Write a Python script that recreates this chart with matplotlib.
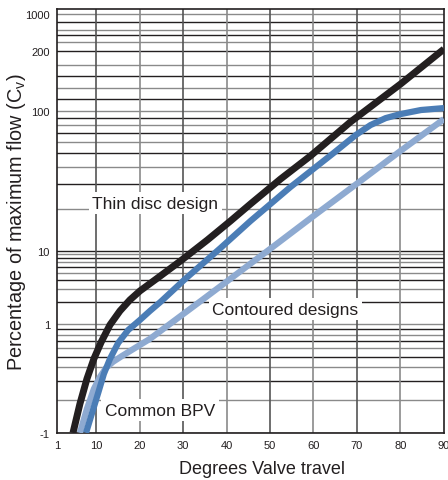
import numpy as np
import matplotlib.pyplot as plt

# degrees of valve travel / percentage of max flow
thin_deg = [4.7, 6.3, 7.9, 9.5, 11.2, 13.2, 15.5, 17.8, 20.1, 24.8, 29.4, 35.6,
            40.9, 45.5, 52.4, 59.3, 68.5, 80.0, 90.0]
thin_val = [0.1, 0.185, 0.313, 0.478, 0.684, 0.98, 1.51, 2.14, 2.84, 4.56, 7.3, 12.0,
            16.4, 21.7, 32.7, 47.9, 83.8, 136.7, 218.0]

cont_deg = [7.7, 9.1, 10.5, 11.8, 13.2, 15.1, 17.4, 20.1, 22.4, 24.8, 30.5, 38.6,
            45.5, 54.7, 64.6, 69.7, 73.1, 76.6, 80.0, 84.7, 90.0]
cont_val = [0.1, 0.153, 0.233, 0.348, 0.478, 0.67, 0.88, 1.135, 1.51, 2.0, 4.14, 10.5,
            16.4, 28.7, 50.2, 67.5, 79.6, 89.3, 95.4, 101.4, 103.7]

bpv_deg = [6.3, 7.9, 9.5, 10.9, 12.3, 13.9, 16.0, 19.0, 22.4, 34.7, 50.1, 60.0,
           69.9, 80.0, 90.0]
bpv_val = [0.1, 0.166, 0.253, 0.326, 0.395, 0.449, 0.509, 0.603, 0.73, 2.2, 10.4, 17.8,
           30.2, 52.0, 87.9]

x_ticks = [1, 10, 20, 30, 40, 50, 60, 70, 80, 90]
y_ticks = [0.1, 1, 10, 100, 200, 1000]
y_tick_labels = ['-1', '1', '10', '100', '200', '1000']

# the printed axis is not an even log scale: pin each label to where it sits
LOGS = np.array([-1.0, 0.0, 1.0, 2.0, np.log10(200), 3.0, 3.1])
FRACS = np.array([0.0, 0.257, 0.429, 0.759, 0.901, 0.988, 1.0])


def fwd(v):
    with np.errstate(divide='ignore', invalid='ignore'):
        lv = np.log10(np.clip(v, 1e-6, None))
    return np.interp(lv, LOGS, FRACS)


def inv(f):
    return 10 ** np.interp(f, FRACS, LOGS)


plt.rcParams['font.family'] = ['Liberation Sans', 'DejaVu Sans']
ink = '#231f20'

fig = plt.figure(figsize=(4.48, 4.81), dpi=100)
ax = fig.add_axes([0.127, 0.098, 0.864, 0.881])
ax.set_yscale('function', functions=(fwd, inv))
ax.set_xlim(1, 90)
ax.set_ylim(0.1, 10 ** 3.1)

# log-paper style grid
grid_vals = []
for d in [0.1, 1, 10]:
    grid_vals += [k * d for k in range(1, 10)]
grid_vals += [100, 115, 130, 150, 170, 200, 300, 400, 500, 700, 1000]
for i, g in enumerate(grid_vals):
    ax.axhline(g, color=ink if i % 2 == 0 else '#8a8a8a', lw=1.0, zorder=1)
for i, xv in enumerate(x_ticks[1:-1]):
    ax.axvline(xv, color='#555555' if i % 2 == 0 else '#8a8a8a', lw=1.2, zorder=1)

ax.plot(bpv_deg, bpv_val, color='#8eaad1', lw=4.5, solid_capstyle='butt',
        solid_joinstyle='round', zorder=3)
ax.plot(cont_deg, cont_val, color='#4b7db6', lw=4.5, solid_capstyle='butt',
        solid_joinstyle='round', zorder=4)
ax.plot(thin_deg, thin_val, color=ink, lw=5, solid_capstyle='butt',
        solid_joinstyle='round', zorder=5)

box = dict(facecolor='white', edgecolor='none', pad=2.5)
ax.text(23.6, 22, 'Thin disc design', ha='center', va='center', fontsize=12.5,
        color=ink, bbox=box, zorder=2)
ax.text(53.5, 1.6, 'Contoured designs', ha='center', va='center', fontsize=12.5,
        color=ink, bbox=box, zorder=2)
ax.text(24.7, 0.162, 'Common BPV', ha='center', va='center', fontsize=12.5,
        color=ink, bbox=box, zorder=2)

ax.set_xticks(x_ticks)
ax.set_yticks(y_ticks)
ax.set_yticklabels(y_tick_labels)
ax.yaxis.set_minor_locator(plt.NullLocator())
ax.tick_params(length=0, labelsize=8, colors=ink, pad=5)

ax.set_xlabel('Degrees Valve travel', fontsize=13, color=ink)
ax.xaxis.set_label_coords(0.53, -0.063)
ax.set_ylabel('Percentage of maximum flow (C$_\\mathregular{v}$)', fontsize=14.3,
              color=ink, va='center')
ax.yaxis.set_label_coords(-0.105, 0.5)
for s in ax.spines.values():
    s.set_color(ink)
    s.set_linewidth(1.2)

fig.savefig('out.png', dpi=100)
